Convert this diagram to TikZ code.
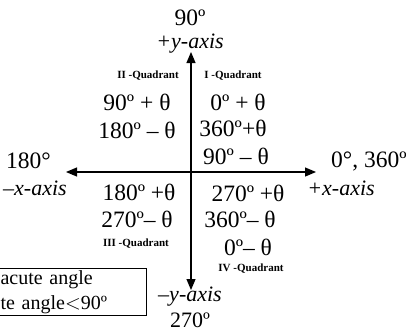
\documentclass[tikz,border=0pt]{standalone}
\usepackage{fontspec}
\setmainfont{Liberation Serif}
\usetikzlibrary{arrows.meta}

\begin{document}
\begin{tikzpicture}[
        x=1pt, y=-1pt,
        lbl/.style={inner sep=0pt, font=\fontsize{23.5}{26}\selectfont},
        axlbl/.style={inner sep=0pt, font=\fontsize{22}{24}\selectfont\itshape},
        quad/.style={inner sep=0pt, font=\fontsize{11}{12}\selectfont\bfseries},
        axis/.style={<->, >={Triangle[length=11pt, width=9pt]}, line width=1.2pt},
        note/.style={draw, line width=0.8pt, anchor=north east, text width=140pt, align=left,
            inner xsep=6pt, inner ysep=2pt, font=\fontsize{20}{25}\selectfont}
    ]
    \useasboundingbox (0,0) rectangle (406,332);
    \clip (0,0) rectangle (406,332);

    % axes
    \coordinate (xl) at (66,172);
    \coordinate (xr) at (316,172);
    \coordinate (yt) at (191,52);
    \coordinate (yb) at (191,290);
    \draw [axis] (xl) -- (xr);
    \draw [axis] (yb) -- (yt);

    % axis labels
    \node (deg90) [lbl] at (190,18) {90º};
    \node (ypos) [axlbl] at (190,44) {+y-axis};
    \node (deg180) [lbl, anchor=west] at (6,161) {180°};
    \node (xneg) [axlbl, anchor=west] at (3,188) {–x-axis};
    \node (deg0) [lbl, anchor=west] at (331,161) {0°, 360º};
    \node (xpos) [axlbl] at (341,188) {+x-axis};
    \node (yneg) [axlbl] at (190,297) {–y-axis};
    \node (deg270) [lbl, font=\fontsize{22}{24}\selectfont] at (190,320) {270º};

    % quadrant II and I
    \node (q2) [quad] at (148,76) {II -Quadrant};
    \node (q1) [quad] at (233,76) {I -Quadrant};
    \node (a2) [lbl] at (137,102) {90º + θ};
    \node (b2) [lbl] at (137,130) {180º – θ};
    \node (a1) [lbl] at (238,102) {0º + θ};
    \node (b1) [lbl] at (233,128) {360º+θ};
    \node (c1) [lbl] at (236,156) {90º – θ};

    % quadrant III and IV
    \node (a3) [lbl] at (139,192) {180º +θ};
    \node (b3) [lbl] at (137,219) {270º– θ};
    \node (q3) [quad] at (136,244) {III -Quadrant};
    \node (a4) [lbl] at (248,193) {270º +θ};
    \node (b4) [lbl] at (240,219) {360º– θ};
    \node (c4) [lbl] at (248,247) {0º– θ};
    \node (q4) [quad] at (251,269) {IV -Quadrant};

    % note box, cut by the left edge
    \node (note) [note] at (147,268) {acute angle\\te angle$<$90º};

\end{tikzpicture}
\end{document}
